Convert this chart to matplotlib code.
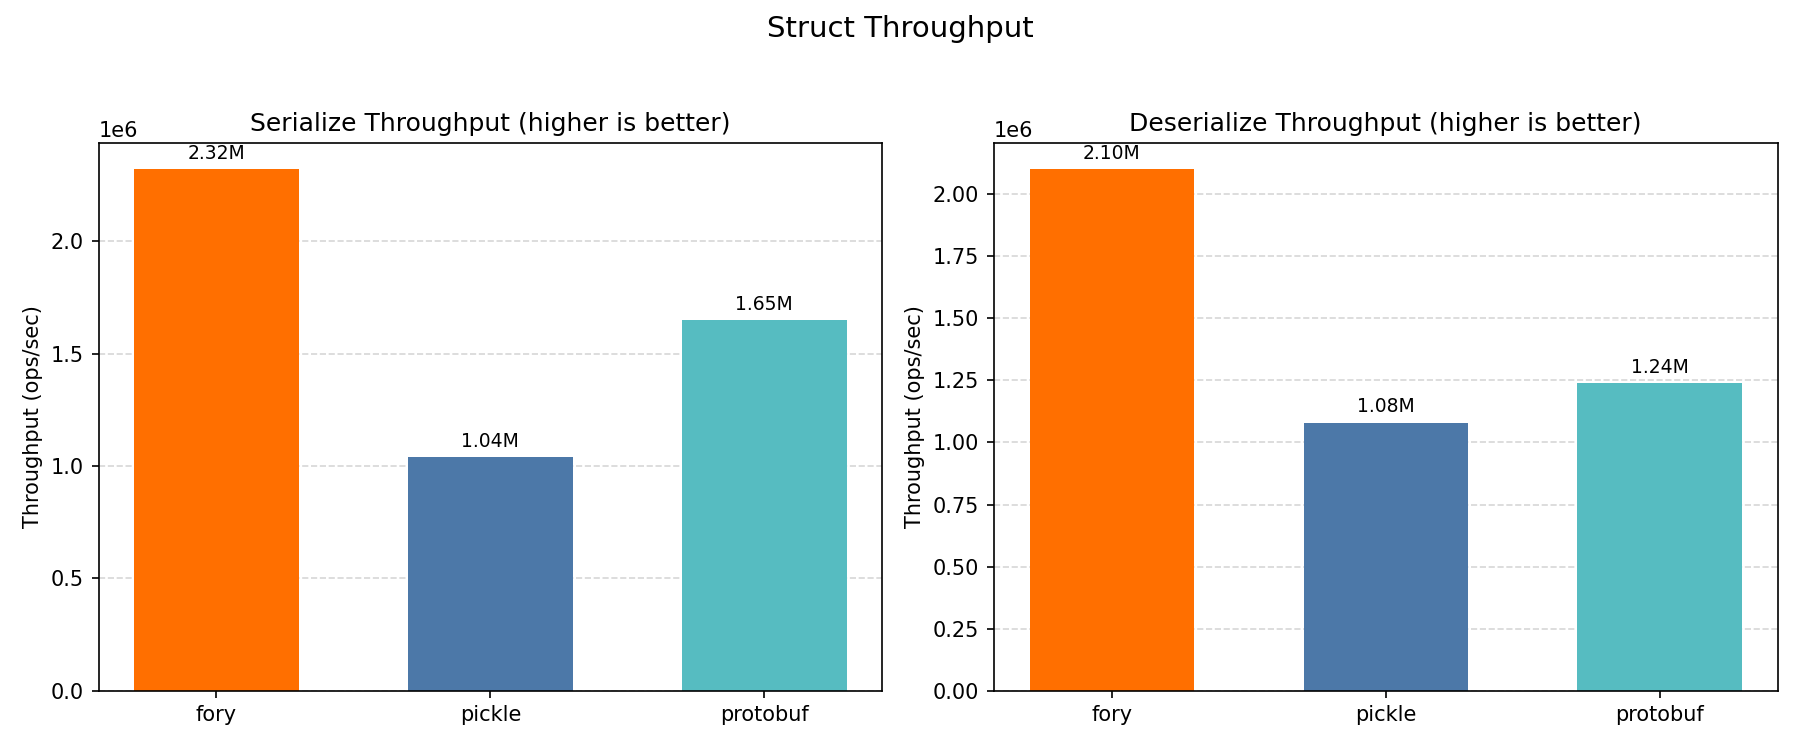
import matplotlib
matplotlib.use("Agg")
import matplotlib.pyplot as plt
import numpy as np

libs = ["fory", "pickle", "protobuf"]
serialize = [2.32e6, 1.04e6, 1.65e6]
deserialize = [2.10e6, 1.08e6, 1.24e6]
colors = ["#FF6F00", "#4C78A8", "#56BCC1"]

fig, axes = plt.subplots(1, 2, figsize=(12, 5), dpi=150)
fig.suptitle("Struct Throughput", fontsize=14)

panels = [("Serialize Throughput (higher is better)", serialize),
          ("Deserialize Throughput (higher is better)", deserialize)]

for ax, (title, vals) in zip(axes, panels):
    x = np.arange(len(libs))
    bars = ax.bar(x, vals, width=0.6, color=colors)
    ax.set_xticks(x)
    ax.set_xticklabels(libs)
    ax.set_title(title)
    ax.set_ylabel("Throughput (ops/sec)")
    ax.set_ylim(0, max(vals) * 1.05)
    ax.grid(axis="y", linestyle="--", alpha=0.5)
    ax.set_axisbelow(True)
    for b, v in zip(bars, vals):
        ax.annotate(f"{v / 1e6:.2f}M", (b.get_x() + b.get_width() / 2, v),
                    xytext=(0, 3), textcoords="offset points",
                    ha="center", va="bottom", fontsize=9)

fig.tight_layout()
fig.subplots_adjust(top=0.809, bottom=0.079)
fig.savefig("out.png")
